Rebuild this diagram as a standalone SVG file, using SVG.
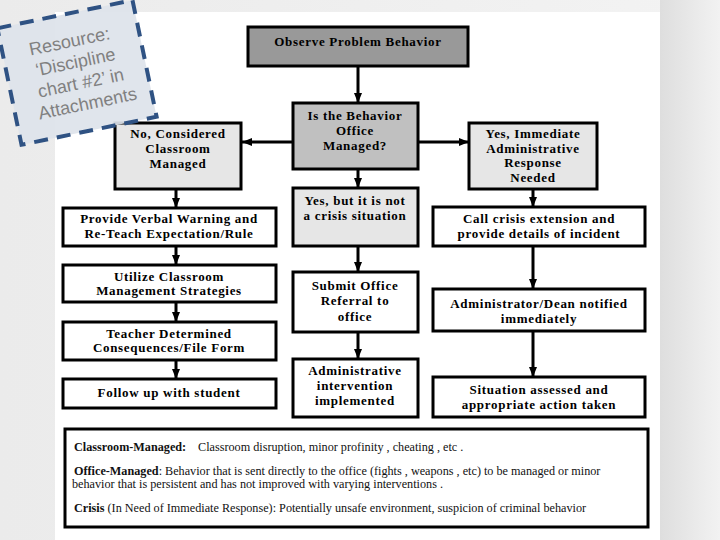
<svg xmlns="http://www.w3.org/2000/svg" width="720" height="540" viewBox="0 0 720 540">
<defs>
<linearGradient id="bgL" x1="0" y1="0" x2="1" y2="0">
<stop offset="0" stop-color="#ebebeb"/><stop offset="1" stop-color="#f3f3f3"/>
</linearGradient>
<linearGradient id="bgR" x1="0" y1="0" x2="1" y2="0">
<stop offset="0" stop-color="#dedede"/><stop offset="1" stop-color="#f2f2f2"/>
</linearGradient>
<marker id="ah" viewBox="0 0 10 8" refX="10" refY="4" markerWidth="10" markerHeight="8" markerUnits="userSpaceOnUse" orient="auto">
<path d="M0,0 L10,4 L0,8 z" fill="#000"/>
</marker>
<style>
.box{stroke:#000;stroke-width:3}
.w{fill:#fff}
.l{fill:#e6e6e6}
.m{fill:#c0c0c0}
.d{fill:#999999}
.t{font-family:"Liberation Serif","Times New Roman",serif;font-weight:bold;font-size:13px;letter-spacing:0.7px;fill:#000;text-anchor:middle}
.lg{font-family:"Liberation Serif","Times New Roman",serif;font-size:12.2px;fill:#111}
.lgb{font-weight:bold}
.c{stroke:#000;stroke-width:3;fill:none;marker-end:url(#ah)}
.st{font-family:"Liberation Sans",Arial,sans-serif;font-size:18px;fill:#808080}
</style>
</defs>
<rect x="0" y="0" width="720" height="540" fill="url(#bgL)"/>
<rect x="660" y="0" width="60" height="540" fill="url(#bgR)"/>
<rect x="55" y="12" width="605" height="528" fill="#fff"/>

<g id="connectors">
<line class="c" x1="358" y1="66" x2="358" y2="103"/>
<line class="c" x1="293" y1="142" x2="242" y2="142"/>
<line class="c" x1="418" y1="142" x2="469" y2="142"/>
<line class="c" x1="358" y1="169" x2="358" y2="188"/>
<line class="c" x1="358" y1="246" x2="358" y2="272"/>
<line class="c" x1="358" y1="332" x2="358" y2="359"/>
<line class="c" x1="176" y1="189" x2="176" y2="208"/>
<line class="c" x1="176" y1="246" x2="176" y2="265"/>
<line class="c" x1="176" y1="302" x2="176" y2="322"/>
<line class="c" x1="176" y1="360" x2="176" y2="379"/>
<line class="c" x1="533" y1="189" x2="533" y2="207"/>
<line class="c" x1="533" y1="246" x2="533" y2="289"/>
<line class="c" x1="533" y1="331" x2="533" y2="377"/>
</g>

<g id="observe">
<rect class="box d" x="248" y="27" width="220" height="39"/>
<text class="t" x="358" y="46">Observe Problem Behavior</text>
</g>
<g id="is-office">
<rect class="box m" x="293" y="103" width="125" height="66"/>
<text class="t" x="355" y="120">Is the Behavior</text>
<text class="t" x="355" y="135">Office</text>
<text class="t" x="355" y="150">Managed?</text>
</g>
<g id="no-classroom">
<rect class="box l" x="115" y="123" width="126" height="66"/>
<text class="t" x="178" y="138">No, Considered</text>
<text class="t" x="178" y="153">Classroom</text>
<text class="t" x="178" y="168">Managed</text>
</g>
<g id="yes-immediate">
<rect class="box l" x="469" y="123" width="128" height="66"/>
<text class="t" x="533" y="138">Yes, Immediate</text>
<text class="t" x="533" y="152.5">Administrative</text>
<text class="t" x="533" y="167">Response</text>
<text class="t" x="533" y="181.5">Needed</text>
</g>
<g id="yes-not-crisis">
<rect class="box l" x="293" y="188" width="125" height="58"/>
<text class="t" x="355" y="205">Yes, but it is not</text>
<text class="t" x="355" y="220">a crisis situation</text>
</g>
<g id="verbal-warning">
<rect class="box w" x="63" y="208" width="213" height="38"/>
<text class="t" x="169" y="223">Provide Verbal Warning and</text>
<text class="t" x="169" y="238">Re-Teach Expectation/Rule</text>
</g>
<g id="call-crisis">
<rect class="box w" x="433" y="207" width="212" height="39"/>
<text class="t" x="539" y="223">Call crisis extension and</text>
<text class="t" x="539" y="238">provide details of incident</text>
</g>
<g id="utilize">
<rect class="box w" x="63" y="265" width="213" height="37"/>
<text class="t" x="169" y="280.5">Utilize Classroom</text>
<text class="t" x="169" y="295">Management Strategies</text>
</g>
<g id="submit-referral">
<rect class="box w" x="293" y="272" width="125" height="60"/>
<text class="t" x="355" y="290">Submit Office</text>
<text class="t" x="355" y="305">Referral to</text>
<text class="t" x="355" y="320.5">office</text>
</g>
<g id="admin-notified">
<rect class="box w" x="433" y="289" width="212" height="42"/>
<text class="t" x="539" y="308">Administrator/Dean notified</text>
<text class="t" x="539" y="323">immediately</text>
</g>
<g id="teacher-consequences">
<rect class="box w" x="63" y="322" width="213" height="38"/>
<text class="t" x="169" y="337.5">Teacher Determined</text>
<text class="t" x="169" y="352">Consequences/File Form</text>
</g>
<g id="follow-up">
<rect class="box w" x="63" y="379" width="213" height="29"/>
<text class="t" x="169" y="397">Follow up with student</text>
</g>
<g id="admin-intervention">
<rect class="box w" x="293" y="359" width="125" height="58"/>
<text class="t" x="355" y="375">Administrative</text>
<text class="t" x="355" y="390">intervention</text>
<text class="t" x="355" y="405">implemented</text>
</g>
<g id="situation-assessed">
<rect class="box w" x="433" y="377" width="212" height="40"/>
<text class="t" x="539" y="394">Situation assessed and</text>
<text class="t" x="539" y="409">appropriate action taken</text>
</g>

<g id="legend">
<rect class="box w" x="65" y="429" width="583" height="98"/>
<text class="lg" x="74" y="451"><tspan class="lgb">Classroom-Managed:</tspan><tspan x="198">Classroom disruption, minor profinity , cheating , etc .</tspan></text>
<text class="lg" x="74" y="475"><tspan class="lgb">Office-Managed</tspan>:  Behavior that is sent directly to the office (fights , weapons , etc) to be managed or minor</text>
<text class="lg" x="72" y="488">behavior that is persistent and has not improved with varying interventions .</text>
<text class="lg" x="74" y="512"><tspan class="lgb">Crisis</tspan> (In Need of Immediate Response):  Potentially unsafe environment, suspicion of criminal behavior</text>
</g>

<g id="resource-note" transform="translate(77,72.5) rotate(-11.7)">
<rect x="-69" y="-59.5" width="138" height="119" fill="#dde3ea" fill-opacity="0.92" stroke="#2f5283" stroke-width="4" stroke-dasharray="14,9"/>
<text class="st" x="-42" y="-26">Resource:</text>
<text class="st" x="-40" y="-4.5">‘Discipline</text>
<text class="st" x="-42" y="17">chart #2’ in</text>
<text class="st" x="-46" y="38.5">Attachments</text>
</g>
</svg>
